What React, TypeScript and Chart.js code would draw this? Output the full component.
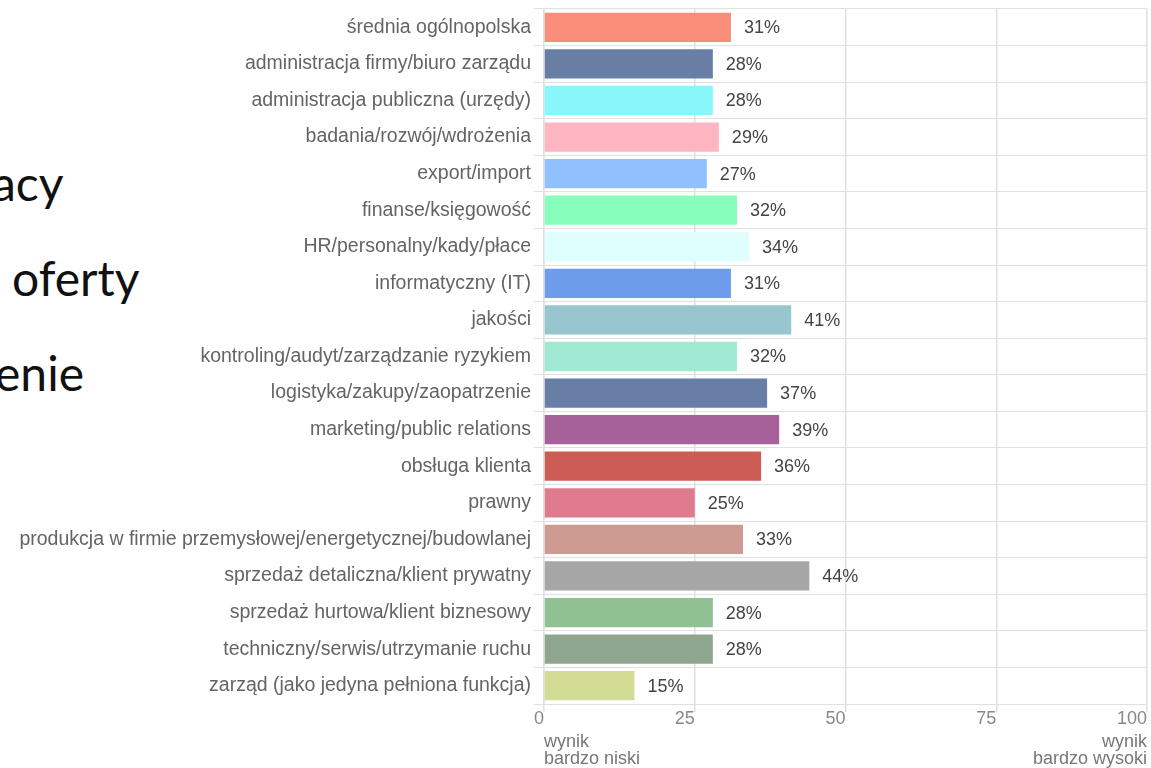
import React, { useEffect, useRef } from "react";
import { Chart, registerables } from "chart.js";

Chart.register(...registerables);

const categories: string[] = [
  "średnia ogólnopolska",
  "administracja firmy/biuro zarządu",
  "administracja publiczna (urzędy)",
  "badania/rozwój/wdrożenia",
  "export/import",
  "finanse/księgowość",
  "HR/personalny/kady/płace",
  "informatyczny (IT)",
  "jakości",
  "kontroling/audyt/zarządzanie ryzykiem",
  "logistyka/zakupy/zaopatrzenie",
  "marketing/public relations",
  "obsługa klienta",
  "prawny",
  "produkcja w firmie przemysłowej/energetycznej/budowlanej",
  "sprzedaż detaliczna/klient prywatny",
  "sprzedaż hurtowa/klient biznesowy",
  "techniczny/serwis/utrzymanie ruchu",
  "zarząd (jako jedyna pełniona funkcja)",
];

const values: number[] = [31, 28, 28, 29, 27, 32, 34, 31, 41, 32, 37, 39, 36, 25, 33, 44, 28, 28, 15];

const barColors: string[] = [
  "#F88E7A",
  "#687EA5",
  "#87F7FC",
  "#FFB4C1",
  "#90C0FD",
  "#87FEB9",
  "#DFFEFE",
  "#6D9DEA",
  "#97C6CE",
  "#A0EAD4",
  "#697EA6",
  "#A6619B",
  "#CD5C55",
  "#E07A8F",
  "#CE9B93",
  "#A6A6A6",
  "#8FC193",
  "#8EA58E",
  "#D3DC95",
];

const xTicks: number[] = [0, 25, 50, 75, 100];
const lowLabel: string[] = ["wynik", "bardzo niski"];
const highLabel: string[] = ["wynik", "bardzo wysoki"];
const slideFragments: string[] = ["acy", "oferty", "enie"];

const FONT = '"Liberation Sans", Arial, sans-serif';

export default function App() {
  const canvasRef = useRef<HTMLCanvasElement | null>(null);

  useEffect(() => {
    const canvas = canvasRef.current;
    if (!canvas) return;

    const labelPlugin = {
      id: "valueLabels",
      afterDatasetsDraw(chart: any) {
        const ctx = chart.ctx;
        const meta = chart.getDatasetMeta(0);
        ctx.save();
        ctx.font = `18px ${FONT}`;
        ctx.fillStyle = "#444444";
        ctx.textAlign = "left";
        ctx.textBaseline = "middle";
        meta.data.forEach((bar: any, i: number) => {
          ctx.fillText(values[i] + "%", bar.x + 13, bar.y + 1);
        });
        ctx.restore();
      },
      afterDraw(chart: any) {
        const ctx = chart.ctx;
        const xs = chart.scales.x;
        const base = chart.chartArea.bottom;
        ctx.save();
        ctx.font = `18px ${FONT}`;
        ctx.fillStyle = "#777777";
        ctx.textBaseline = "alphabetic";
        ctx.textAlign = "left";
        lowLabel.forEach((t, i) => ctx.fillText(t, xs.left, base + 43 + i * 16.7));
        ctx.textAlign = "right";
        highLabel.forEach((t, i) => ctx.fillText(t, xs.right, base + 43 + i * 16.7));
        ctx.restore();
      },
    };

    const chart = new Chart(canvas, {
      type: "bar",
      data: {
        labels: categories,
        datasets: [
          {
            data: values,
            backgroundColor: barColors,
            borderWidth: 0,
            categoryPercentage: 1,
            barPercentage: 0.8,
          },
        ],
      },
      options: {
        indexAxis: "y",
        animation: false,
        responsive: true,
        maintainAspectRatio: false,
        layout: { padding: { top: 9, right: 4, left: 0, bottom: 0 } },
        plugins: {
          legend: { display: false },
          tooltip: { enabled: false },
        },
        scales: {
          x: {
            type: "linear",
            min: 0,
            max: 100,
            afterBuildTicks(scale: any) {
              scale.ticks = xTicks.map((v) => ({ value: v }));
            },
            afterFit(scale: any) {
              scale.height = 64;
              scale.paddingLeft = 0;
              scale.paddingRight = 0;
            },
            ticks: {
              align: "end",
              color: "#888888",
              font: { family: FONT, size: 18 },
              padding: -4,
              maxRotation: 0,
            },
            grid: {
              color: "#e0e0e0",
              lineWidth: 1.5,
              tickLength: 8,
            },
            border: { display: true, color: "#e0e0e0", width: 1 },
          },
          y: {
            type: "category",
            afterFit(scale: any) {
              scale.width = 544;
              scale.paddingTop = 0;
              scale.paddingBottom = 0;
            },
            ticks: {
              color: "#646464",
              font: { family: FONT, size: 19.5 },
              padding: 3,
              autoSkip: false,
            },
            grid: {
              color: "#e0e0e0",
              lineWidth: 1,
              tickLength: 10,
              offset: true,
            },
            border: { display: true, color: "#e0e0e0", width: 1.5 },
          },
        },
      },
      plugins: [labelPlugin],
    });

    return () => chart.destroy();
  }, []);

  const fragTops = [159, 254, 349];
  const fragLefts = [-8, 12, -5];

  return (
    <div
      style={{
        position: "fixed",
        left: 0,
        top: 0,
        width: 1151,
        height: 768,
        background: "#ffffff",
        overflow: "hidden",
      }}
    >
      {slideFragments.map((t, i) => (
        <div
          key={i}
          style={{
            position: "absolute",
            left: fragLefts[i],
            top: fragTops[i],
            fontFamily: "Lato, 'Open Sans', sans-serif",
            fontSize: 48,
            lineHeight: "48px",
            color: "#111111",
            whiteSpace: "nowrap",
          }}
        >
          {t}
        </div>
      ))}
      <canvas
        ref={canvasRef}
        style={{ position: "absolute", left: 0, top: 0, width: 1151, height: 768 }}
      />
    </div>
  );
}
